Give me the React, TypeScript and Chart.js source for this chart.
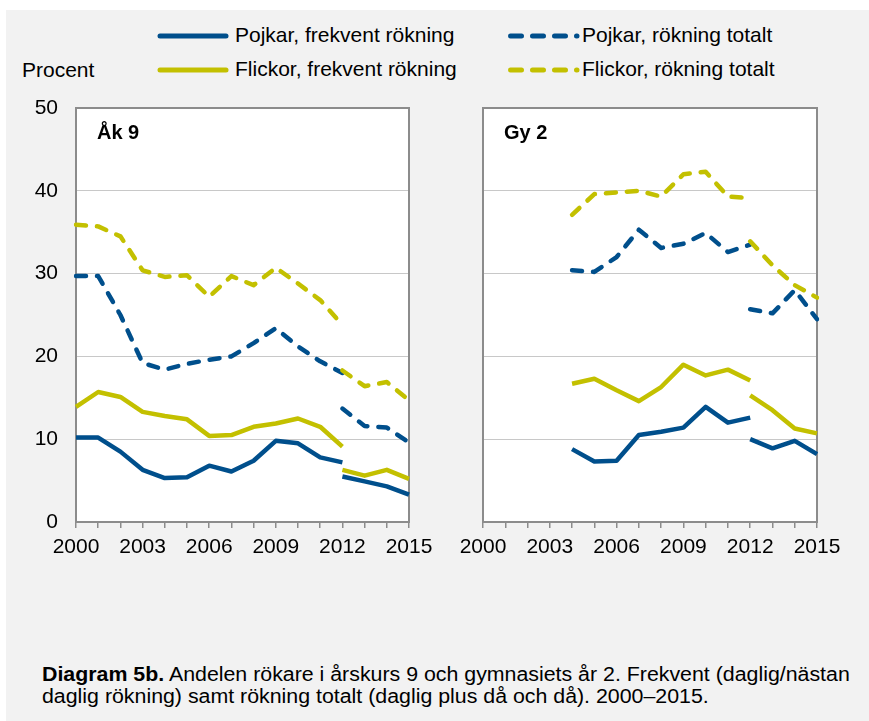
import React, { useEffect, useRef } from "react";
import { Chart, registerables } from "chart.js";

Chart.register(...registerables);

// ---------- data ----------
const years = ["2000", "2001", "2002", "2003", "2004", "2005", "2006", "2007", "2008", "2009", "2010", "2011", "2012", "2013", "2014", "2015"];
const yMin = 0;
const yMax = 50;
const yStep = 10;

// Åk 9 (old method 2000–2012, new method 2012–2015)
const ak9PojkarFrekvent = [10.2, 10.2, 8.5, 6.3, 5.3, 5.4, 6.8, 6.1, 7.4, 9.8, 9.5, 7.8, 7.2, null, null, null];
const ak9PojkarFrekventNy = [null, null, null, null, null, null, null, null, null, null, null, null, 5.5, 4.9, 4.3, 3.3];
const ak9FlickorFrekvent = [13.9, 15.7, 15.1, 13.3, 12.8, 12.4, 10.4, 10.5, 11.5, 11.9, 12.5, 11.5, 9.1, null, null, null];
const ak9FlickorFrekventNy = [null, null, null, null, null, null, null, null, null, null, null, null, 6.3, 5.6, 6.3, 5.2];
const ak9PojkarTotalt = [29.7, 29.7, 25.0, 19.2, 18.4, 19.1, 19.6, 20.0, 21.6, 23.4, 21.2, 19.4, 18.0, null, null, null];
const ak9PojkarTotaltNy = [null, null, null, null, null, null, null, null, null, null, null, null, 13.7, 11.6, 11.4, 9.6];
const ak9FlickorTotalt = [35.9, 35.7, 34.5, 30.4, 29.6, 29.8, 27.2, 29.7, 28.6, 30.7, 28.8, 26.8, 23.8, null, null, null];
const ak9FlickorTotaltNy = [null, null, null, null, null, null, null, null, null, null, null, null, 18.3, 16.4, 16.9, 14.7];

// Gy 2
const gy2PojkarFrekvent = [null, null, null, null, 8.8, 7.3, 7.4, 10.5, 10.9, 11.4, 13.9, 12.0, 12.6, null, null, null];
const gy2PojkarFrekventNy = [null, null, null, null, null, null, null, null, null, null, null, null, 10.0, 8.9, 9.8, 8.2];
const gy2FlickorFrekvent = [null, null, null, null, 16.7, 17.3, 15.9, 14.6, 16.3, 19.0, 17.7, 18.4, 17.1, null, null, null];
const gy2FlickorFrekventNy = [null, null, null, null, null, null, null, null, null, null, null, null, 15.3, 13.5, 11.3, 10.7];
const gy2PojkarTotalt = [null, null, null, null, 30.4, 30.2, 32.0, 35.3, 33.1, 33.6, 34.9, 32.6, 33.5, null, null, null];
const gy2PojkarTotaltNy = [null, null, null, null, null, null, null, null, null, null, null, null, 25.7, 25.2, 28.0, 24.5];
const gy2FlickorTotalt = [null, null, null, null, 37.1, 39.6, 39.8, 40.0, 39.3, 42.0, 42.3, 39.3, 39.1, null, null, null];
const gy2FlickorTotaltNy = [null, null, null, null, null, null, null, null, null, null, null, null, 33.9, 31.0, 28.6, 27.1];

const seriesNames = ["Pojkar, frekvent rökning", "Pojkar, rökning totalt", "Flickor, frekvent rökning", "Flickor, rökning totalt"];

// ---------- styles ----------
const BLUE = "#004f8c";
const YELLOW = "#c3c000";
const FONT = "'Liberation Sans', Arial, Helvetica, sans-serif";
const DASH = [10, 11];
const LW = 4.5;

function line(label: string, data: (number | null)[], color: string, dashed: boolean) {
  return {
    label,
    data,
    borderColor: color,
    backgroundColor: color,
    borderWidth: LW,
    borderDash: dashed ? DASH : [],
    borderCapStyle: dashed ? "round" : "butt",
    borderJoinStyle: "round",
    pointRadius: 0,
    pointHoverRadius: 0,
    fill: false,
    tension: 0,
    spanGaps: false,
  };
}

const framePlugin = {
  id: "frame",
  beforeDraw(chart: any) {
    const { ctx, chartArea: a } = chart;
    ctx.save();
    ctx.fillStyle = "#ffffff";
    ctx.fillRect(a.left, a.top, a.right - a.left, a.bottom - a.top);
    ctx.restore();
  },
  beforeDatasetsDraw(chart: any) {
    const { ctx, chartArea: a } = chart;
    ctx.save();
    ctx.strokeStyle = "#8c8c8c";
    ctx.lineWidth = 2;
    ctx.strokeRect(a.left, a.top, a.right - a.left, a.bottom - a.top);
    ctx.restore();
  },
};

const PAD_TOP = 34;
const PAD_RIGHT = 34;
const Y_W = 56;
const X_H = 40;
const PLOT_TOP = 108;
const PLOT_BOTTOM = 522;

function Panel(props: { datasets: any[]; showY: boolean; plotLeft: number; plotRight: number; title: string }) {
  const ref = useRef<HTMLCanvasElement>(null);
  const left = props.plotLeft - Y_W;
  const top = PLOT_TOP - PAD_TOP;
  const w = props.plotRight - left + PAD_RIGHT;
  const h = PAD_TOP + (PLOT_BOTTOM - PLOT_TOP) + X_H;
  useEffect(() => {
    if (!ref.current) return;
    const chart = new Chart(ref.current, {
      type: "line",
      data: { labels: years, datasets: props.datasets as any },
      options: {
        animation: false,
        responsive: false,
        maintainAspectRatio: false,
        devicePixelRatio: 1,
        layout: { padding: { top: PAD_TOP, right: PAD_RIGHT, left: 0, bottom: 0 } },
        plugins: { legend: { display: false }, tooltip: { enabled: false }, title: { display: false } },
        scales: {
          x: {
            type: "category",
            offset: false,
            ticks: {
              autoSkip: false,
              maxRotation: 0,
              minRotation: 0,
              color: "#000",
              font: { family: FONT, size: 21 },
              padding: 7,
              callback: (_v: any, i: number) => (i % 3 === 0 ? years[i] : ""),
            },
            grid: { drawOnChartArea: false, drawTicks: true, tickLength: 6, color: "#8c8c8c", lineWidth: 1.5 },
            border: { display: false },
            afterFit: (s: any) => {
              s.height = X_H;
            },
          },
          y: {
            min: yMin,
            max: yMax,
            ticks: {
              stepSize: yStep,
              display: props.showY,
              color: "#000",
              font: { family: FONT, size: 21 },
              padding: 18,
            },
            grid: { color: "#c8c8c8", lineWidth: 1, drawTicks: false },
            border: { display: false },
            afterFit: (s: any) => {
              s.width = Y_W;
            },
          },
        },
      } as any,
      plugins: [framePlugin],
    });
    return () => chart.destroy();
  }, []);
  return (
    <>
      <canvas
        ref={ref}
        width={w}
        height={h}
        style={{ position: "absolute", left, top, width: w, height: h, display: "block" }}
      />
      <div
        style={{
          position: "absolute",
          left: props.plotLeft + 21,
          top: 120,
          fontFamily: FONT,
          fontWeight: "bold",
          fontSize: 20,
          lineHeight: "24px",
          color: "#000",
          whiteSpace: "nowrap",
        }}
      >
        {props.title}
      </div>
    </>
  );
}

function LegendItem(props: { left: number; top: number; color: string; dashed: boolean; text: string }) {
  const { left, top, color, dashed, text } = props;
  return (
    <>
      <svg style={{ position: "absolute", left, top: top - 6, overflow: "visible" }} width={76} height={12}>
        {dashed ? (
          <line x1={4.5} y1={6} x2={71} y2={6} stroke={color} strokeWidth={5} strokeLinecap="round" strokeDasharray="11 11" />
        ) : (
          <line x1={3} y1={6} x2={69} y2={6} stroke={color} strokeWidth={5} strokeLinecap="round" />
        )}
      </svg>
      <div
        style={{
          position: "absolute",
          left: left + (dashed ? 76 : 78),
          top: top - 13,
          fontFamily: FONT,
          fontSize: 21,
          lineHeight: "24px",
          color: "#000",
          whiteSpace: "nowrap",
        }}
      >
        {text}
      </div>
    </>
  );
}

export default function App() {
  const ak9 = [
    line(seriesNames[2], ak9FlickorFrekvent, YELLOW, false),
    line(seriesNames[2], ak9FlickorFrekventNy, YELLOW, false),
    line(seriesNames[0], ak9PojkarFrekvent, BLUE, false),
    line(seriesNames[0], ak9PojkarFrekventNy, BLUE, false),
    line(seriesNames[3], ak9FlickorTotalt, YELLOW, true),
    line(seriesNames[3], ak9FlickorTotaltNy, YELLOW, true),
    line(seriesNames[1], ak9PojkarTotalt, BLUE, true),
    line(seriesNames[1], ak9PojkarTotaltNy, BLUE, true),
  ];
  const gy2 = [
    line(seriesNames[2], gy2FlickorFrekvent, YELLOW, false),
    line(seriesNames[2], gy2FlickorFrekventNy, YELLOW, false),
    line(seriesNames[0], gy2PojkarFrekvent, BLUE, false),
    line(seriesNames[0], gy2PojkarFrekventNy, BLUE, false),
    line(seriesNames[3], gy2FlickorTotalt, YELLOW, true),
    line(seriesNames[3], gy2FlickorTotaltNy, YELLOW, true),
    line(seriesNames[1], gy2PojkarTotalt, BLUE, true),
    line(seriesNames[1], gy2PojkarTotaltNy, BLUE, true),
  ];
  return (
    <div style={{ position: "absolute", left: 0, top: 0, width: 869, height: 721, background: "#ffffff", overflow: "hidden" }}>
      <div style={{ position: "absolute", left: 6, top: 10, width: 863, height: 711, background: "#f2f2f2" }} />
      <LegendItem left={157} top={36} color={BLUE} dashed={false} text={seriesNames[0]} />
      <LegendItem left={506} top={36} color={BLUE} dashed={true} text={seriesNames[1]} />
      <LegendItem left={157} top={70} color={YELLOW} dashed={false} text={seriesNames[2]} />
      <LegendItem left={506} top={70} color={YELLOW} dashed={true} text={seriesNames[3]} />
      <div
        style={{
          position: "absolute",
          left: 22,
          top: 58,
          fontFamily: FONT,
          fontSize: 21,
          lineHeight: "24px",
          color: "#000",
          whiteSpace: "nowrap",
        }}
      >
        Procent
      </div>
      <Panel datasets={ak9} showY={true} plotLeft={76} plotRight={409} title="Åk 9" />
      <Panel datasets={gy2} showY={false} plotLeft={483} plotRight={817} title="Gy 2" />
      <div
        style={{
          position: "absolute",
          left: 42,
          top: 663,
          fontFamily: FONT,
          fontSize: 20,
          lineHeight: "22px",
          color: "#000",
          whiteSpace: "nowrap",
          transform: "scaleX(1.067)",
          transformOrigin: "0 0",
        }}
      >
        <b>Diagram 5b.</b> Andelen rökare i årskurs 9 och gymnasiets år 2. Frekvent (daglig/nästan
        <br />
        daglig rökning) samt rökning totalt (daglig plus då och då). 2000–2015.
      </div>
    </div>
  );
}
